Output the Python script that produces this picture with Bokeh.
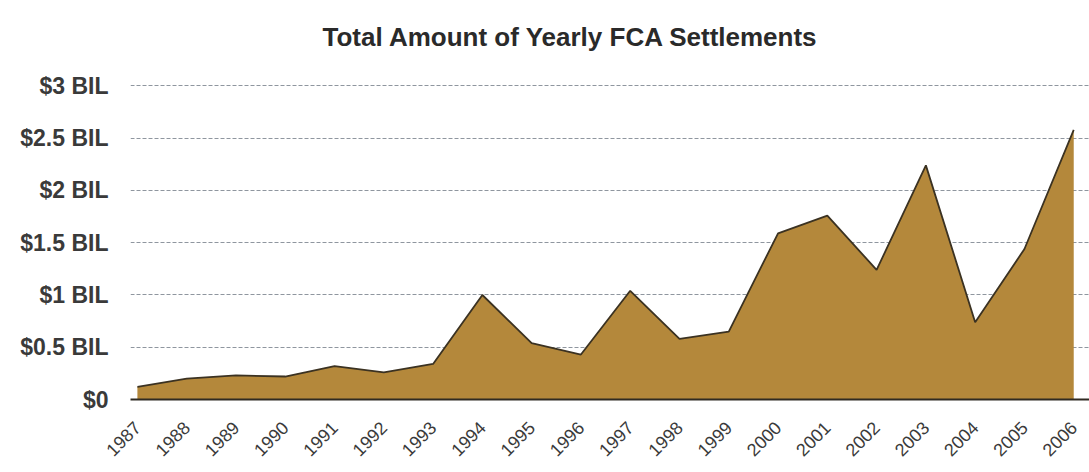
from bokeh.plotting import figure
from bokeh.models import FixedTicker, Range1d, ColumnDataSource
from bokeh.embed import file_html
from bokeh.resources import INLINE
import math

years = list(range(1987, 2007))
year_labels = [str(y) for y in years]
settlements_bil = [0.12, 0.20, 0.23, 0.22, 0.32, 0.26, 0.34, 1.00, 0.54, 0.43,
                   1.04, 0.58, 0.65, 1.59, 1.76, 1.24, 2.24, 0.74, 1.44, 2.58]
y_ticks = [0, 0.5, 1, 1.5, 2, 2.5, 3]
y_tick_labels = ["$0", "$0.5 BIL", "$1 BIL", "$1.5 BIL", "$2 BIL", "$2.5 BIL", "$3 BIL"]

src = ColumnDataSource(dict(x=years, y=settlements_bil, z=[0] * len(years)))

p = figure(width=1089, height=472, output_backend="svg", toolbar_location=None,
           x_range=Range1d(1986.86, 2006.32), y_range=Range1d(0, 3.10),
           min_border_left=130, min_border_right=0, min_border_top=75, min_border_bottom=73,
           title="Total Amount of Yearly FCA Settlements")
p.outline_line_color = None
p.background_fill_color = "white"

p.title.text_font = "Liberation Sans"
p.title.text_font_style = "bold"
p.title.text_font_size = "26px"
p.title.text_color = "#2a2a2a"
p.title.align = "left"
p.title.offset = 192
p.title.standoff = 43
p.title.vertical_align = "top"

p.varea(x="x", y1="z", y2="y", source=src, fill_color="#B4883B", fill_alpha=1)
p.line(x="x", y="y", source=src, line_color="#3b3222", line_width=1.8)

p.xgrid.grid_line_color = None
p.ygrid.ticker = FixedTicker(ticks=y_ticks[1:])
p.ygrid.grid_line_color = "#8f969f"
p.ygrid.grid_line_dash = "4 2"
p.ygrid.grid_line_width = 1.2

p.yaxis.ticker = FixedTicker(ticks=y_ticks)
p.yaxis.major_label_overrides = {t: l for t, l in zip(y_ticks, y_tick_labels)}
p.yaxis.axis_line_color = None
p.yaxis.major_tick_line_color = None
p.yaxis.minor_tick_line_color = None
p.yaxis.major_label_standoff = 16
p.yaxis.major_label_text_font = "Liberation Sans"
p.yaxis.major_label_text_font_style = "bold"
p.yaxis.major_label_text_font_size = "23px"
p.yaxis.major_label_text_color = "#3a3a3a"

p.xaxis.ticker = FixedTicker(ticks=years)
p.xaxis.major_label_overrides = {y: l for y, l in zip(years, year_labels)}
p.xaxis.axis_line_color = "#2f2a22"
p.xaxis.axis_line_width = 2
p.xaxis.major_tick_line_color = None
p.xaxis.minor_tick_line_color = None
p.xaxis.major_label_orientation = math.pi / 4
p.xaxis.major_label_standoff = 19
p.xaxis.major_label_text_font = "Liberation Sans"
p.xaxis.major_label_text_font_size = "18px"
p.xaxis.major_label_text_color = "#3a3a3a"

open("out.html", "w").write(file_html(p, INLINE))
